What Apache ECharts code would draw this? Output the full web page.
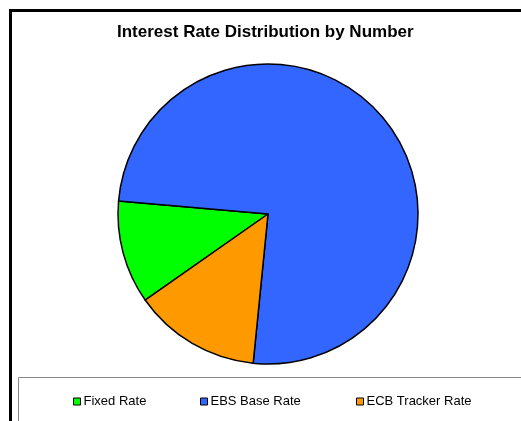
<!DOCTYPE html>
<html><head><meta charset="utf-8">
<script src="https://cdn.jsdelivr.net/npm/echarts@6/dist/echarts.min.js"></script>
<style>html,body{margin:0;padding:0;background:#fff}#c{width:521px;height:421px}</style>
</head><body><div id="c"></div>
<script>
const categories = ['Fixed Rate', 'EBS Base Rate', 'ECB Tracker Rate'];
const values = [111, 752, 137];
const colors = ['#00FF00', '#3366FF', '#FF9900'];
const title = 'Interest Rate Distribution by Number';

const chart = echarts.init(document.getElementById('c'));
const legendLefts = [73, 200, 356];
chart.setOption({
  animation: false,
  title: { text: title, left: 117, top: 24, padding: 0, textStyle: { fontFamily: 'Liberation Sans, Arial', fontSize: 17, fontWeight: 'bold', color: '#000' } },
  graphic: [
    { type: 'rect', shape: { x: 10.5, y: 10.5, width: 530, height: 430 }, style: { fill: 'none', stroke: '#000', lineWidth: 3 }, z: 100 },
    { type: 'rect', shape: { x: 18.5, y: 377.5, width: 520, height: 60 }, style: { fill: '#fff', stroke: '#888', lineWidth: 1 }, z: 0 }
  ],
  legend: categories.map((c, i) => ({
    data: [c], left: legendLefts[i], top: 395, padding: 0, itemWidth: 7, itemHeight: 7, icon: 'rect',
    itemStyle: { borderColor: '#000', borderWidth: 1 },
    textStyle: { fontFamily: 'Liberation Sans, Arial', fontSize: 13, color: '#000', padding: [0, 0, 0, -2] }
  })),
  series: [{
    type: 'pie', center: [268, 214], radius: 150, startAngle: 215, clockwise: true,
    label: { show: false }, labelLine: { show: false }, emphasis: { disabled: true },
    itemStyle: { borderColor: '#000', borderWidth: 1.5 },
    data: categories.map((c, i) => ({ name: c, value: values[i], itemStyle: { color: colors[i] } }))
  }]
});
</script></body></html>
